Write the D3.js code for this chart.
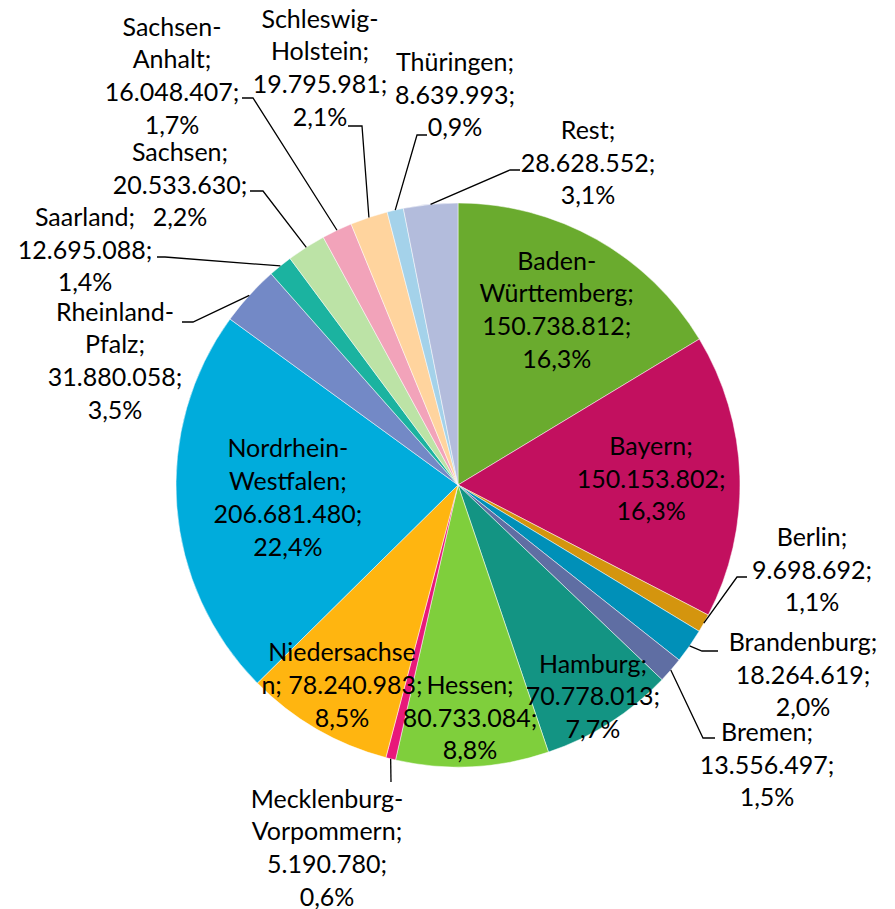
<!DOCTYPE html>
<html>
<head>
<meta charset="utf-8">
<script src="https://cdn.jsdelivr.net/npm/d3@7"></script>
<style>
	body { margin: 0; background: #fff; }
	svg { display: block; }
	text { font-family: Lato, "Open Sans", sans-serif; fill: #000; }
</style>
</head>
<body>
<div id="chart"></div>
<script>
//DATA (clockwise from 12 o'clock)
var states = ["Baden-Württemberg", "Bayern", "Berlin", "Brandenburg", "Bremen", "Hamburg", "Hessen",
	"Mecklenburg-Vorpommern", "Niedersachsen", "Nordrhein-Westfalen", "Rheinland-Pfalz", "Saarland",
	"Sachsen", "Sachsen-Anhalt", "Schleswig-Holstein", "Thüringen", "Rest"];
var amounts = [150738812, 150153802, 9698692, 18264619, 13556497, 70778013, 80733084,
	5190780, 78240983, 206681480, 31880058, 12695088,
	20533630, 16048407, 19795981, 8639993, 28628552];
var colors = ["#6aab2e", "#c2105f", "#d4950e", "#0090b8", "#5f6ea3", "#139483", "#7fcf3c",
	"#e8197a", "#ffb510", "#00acdc", "#7389c6", "#1bb3a0",
	"#bce3a6", "#f2a3ba", "#ffd49e", "#a4d2ea", "#b3bcdc"];

var WIDTH = 895, HEIGHT = 909;
var CX = 458, CY = 485, R = 282;
var LINE = 32.7;

//LABEL LAYOUT: inside labels use a radius factor, outside labels a fixed box centre + leader elbow
var layout = {
	"Baden-Württemberg": {"k": 0.713},
	"Bayern": {"k": 0.685},
	"Hamburg": {"k": 0.89},
	"Hessen": {"k": 0.827},
	"Niedersachsen": {"k": 0.82, "wrap": ["Niedersachse", "n;"]},
	"Nordrhein-Westfalen": {"k": 0.605},
	"Mecklenburg-Vorpommern": {"at": [327, 848], "leader": [[391, 782]]},
	"Berlin": {"at": [812, 570], "leader": [[737, 577], [747, 577]]},
	"Brandenburg": {"at": [803, 675], "leader": [[702, 651], [718, 651]]},
	"Bremen": {"at": [767, 765], "leader": [[703, 738], [715, 738]]},
	"Rest": {"at": [588, 163], "leader": [[510, 170], [520, 170]]},
	"Thüringen": {"at": [455, 95], "leader": [[417, 135], [427, 135]]},
	"Schleswig-Holstein": {"at": [320, 68], "leader": [[362, 126], [348, 126]]},
	"Sachsen-Anhalt": {"at": [172, 76], "leader": [[253, 98], [242, 98]]},
	"Sachsen": {"at": [180, 185], "leader": [[263, 191], [250, 191]]},
	"Saarland": {"at": [85, 250], "leader": [[165, 257], [157, 257]]},
	"Rheinland-Pfalz": {"at": [115, 361], "leader": [[193, 322], [182, 322]]}
};

var de = d3.formatLocale({"decimal": ",", "thousands": ".", "grouping": [3], "currency": ["", " €"]});
var fmtNum = de.format(",d");
var fmtPct = de.format(".1%");

var data = states.map(function(s, i){
	return {"name": s, "value": amounts[i], "color": colors[i]};
});
var total = d3.sum(amounts);

var svg = d3.select("#chart").append("svg")
	.attr("width", WIDTH)
	.attr("height", HEIGHT);

var g = svg.append("g").attr("transform", "translate(" + CX + "," + CY + ")");

var pie = d3.pie().sort(null).value(function(d){ return d.value; });
var arc = d3.arc().innerRadius(0).outerRadius(R);
var arcs = pie(data);

g.selectAll("path.slice")
	.data(arcs)
	.enter()
	.append("path")
	.attr("class", "slice")
	.attr("d", arc)
	.attr("fill", function(d){ return d.data.color; })
	.attr("stroke", "#ffffff")
	.attr("stroke-width", 0.5);

function labelLines(d){
	var lay = layout[d.data.name];
	var nameLines;
	if (lay.wrap) {
		nameLines = lay.wrap.slice();
		nameLines[nameLines.length - 1] += " " + fmtNum(d.data.value) + ";";
		return nameLines.concat([fmtPct(d.data.value / total)]);
	}//endif
	var parts = d.data.name.split("-");
	nameLines = parts.map(function(p, i){ return i < parts.length - 1 ? p + "-" : p + ";"; });
	return nameLines.concat([fmtNum(d.data.value) + ";", fmtPct(d.data.value / total)]);
}

function labelCentre(d){
	var lay = layout[d.data.name];
	if (lay.at) return [lay.at[0] - CX, lay.at[1] - CY];
	var a = (d.startAngle + d.endAngle) / 2;
	return [Math.sin(a) * R * lay.k, -Math.cos(a) * R * lay.k];
}

//LEADER LINES
var line = d3.line();
g.selectAll("path.leader")
	.data(arcs.filter(function(d){ return layout[d.data.name].leader; }))
	.enter()
	.append("path")
	.attr("class", "leader")
	.attr("fill", "none")
	.attr("stroke", "#000")
	.attr("stroke-width", 1.3)
	.attr("d", function(d){
		var a = (d.startAngle + d.endAngle) / 2;
		var pts = [[Math.sin(a) * R, -Math.cos(a) * R]];
		layout[d.data.name].leader.forEach(function(p){ pts.push([p[0] - CX, p[1] - CY]); });
		return line(pts);
	});

//LABELS
var labels = g.selectAll("text.label")
	.data(arcs)
	.enter()
	.append("text")
	.attr("class", "label")
	.attr("text-anchor", "middle")
	.style("font-size", "25px");

labels.each(function(d){
	var lines = labelLines(d);
	var c = labelCentre(d);
	var y0 = c[1] - (lines.length - 1) * LINE / 2;
	d3.select(this).selectAll("tspan")
		.data(lines)
		.enter()
		.append("tspan")
		.attr("x", c[0])
		.attr("y", function(t, i){ return y0 + i * LINE; })
		.attr("dy", "0.35em")
		.text(function(t){ return t; });
});
</script>
</body>
</html>
